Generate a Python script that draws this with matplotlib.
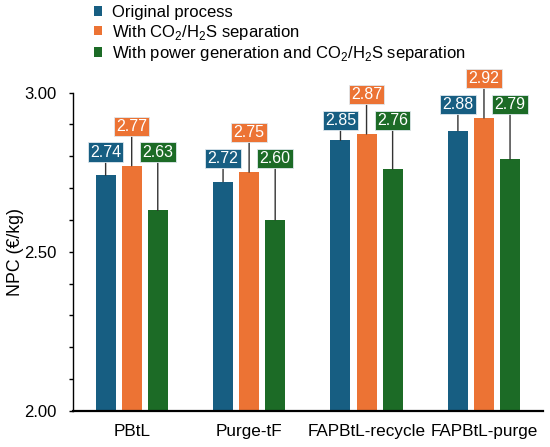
import numpy as np
import matplotlib.pyplot as plt
from matplotlib.ticker import MultipleLocator

plt.rcParams['font.family'] = ['Liberation Sans', 'DejaVu Sans']
plt.rcParams['mathtext.fontset'] = 'custom'
plt.rcParams['mathtext.rm'] = 'Liberation Sans'

# datos del grafico
procesos = ['PBtL', 'Purge-tF', 'FAPBtL-recycle', 'FAPBtL-purge']
series = ['Original process',
          'With CO$_\\mathregular{2}$/H$_\\mathregular{2}$S separation',
          'With power generation and CO$_\\mathregular{2}$/H$_\\mathregular{2}$S separation']
original = [2.74, 2.72, 2.85, 2.88]
con_separacion = [2.77, 2.75, 2.87, 2.92]
con_potencia = [2.63, 2.60, 2.76, 2.79]
colores = ['#175e82', '#ec7334', '#1c6b26']

valores = [original, con_separacion, con_potencia]

fig = plt.figure(figsize=(5.5, 4.47), dpi=100)
ax = fig.add_axes([0.1327, 0.0805, 0.854, 0.7125])

x = np.arange(len(procesos))
ancho = 0.17
sep = 0.222
maximos = np.max(np.array(valores), axis=0)

handles = []
for i, (vals, nombre, col) in enumerate(zip(valores, series, colores)):
    pos = x + (i - 1) * sep
    b = ax.bar(pos, vals, width=ancho, color=col, label=nombre, zorder=2)
    handles.append(b)
    for p, v, m in zip(pos, vals, maximos):
        # la etiqueta naranja va mas arriba
        ylab = m + 0.124 if i == 1 else m + 0.043
        ax.annotate('%.2f' % v, xy=(p, v), xytext=(p, ylab),
                    ha='center', va='center', color='white', fontsize=11.5,
                    annotation_clip=False, zorder=3,
                    bbox=dict(boxstyle='square,pad=0.14', fc=col,
                              ec='#dfe8ee', lw=0.6),
                    arrowprops=dict(arrowstyle='-', color='#333333', lw=1,
                                    shrinkA=0, shrinkB=0))

ax.set_xlim(-0.5, 3.5)
ax.set_ylim(2.0, 3.0)
ax.set_xticks(x)
ax.set_xticklabels(procesos, fontsize=12.3)
ax.yaxis.set_major_locator(MultipleLocator(0.5))
ax.yaxis.set_minor_locator(MultipleLocator(0.1))
ax.yaxis.set_major_formatter(plt.FormatStrFormatter('%.2f'))
ax.tick_params(axis='x', length=0, pad=9)
ax.tick_params(axis='y', which='both', length=3, width=1, direction='out',
               labelsize=12, pad=9)
ax.spines['top'].set_visible(False)
ax.spines['right'].set_visible(False)
ax.spines['bottom'].set_linewidth(1.6)
ax.spines['left'].set_linewidth(1)
ax.set_ylabel('NPC (€/kg)', fontsize=12.8)
ax.yaxis.set_label_coords(-0.104, 0.5)

fig.legend(handles=handles, loc='upper left', bbox_to_anchor=(94 / 550, 1 - 5 / 447),
           frameon=False, fontsize=12, handlelength=0.5, handleheight=0.5,
           handletextpad=0.6, labelspacing=0.15, borderpad=0, borderaxespad=0)

plt.savefig('out.png', dpi=100)
